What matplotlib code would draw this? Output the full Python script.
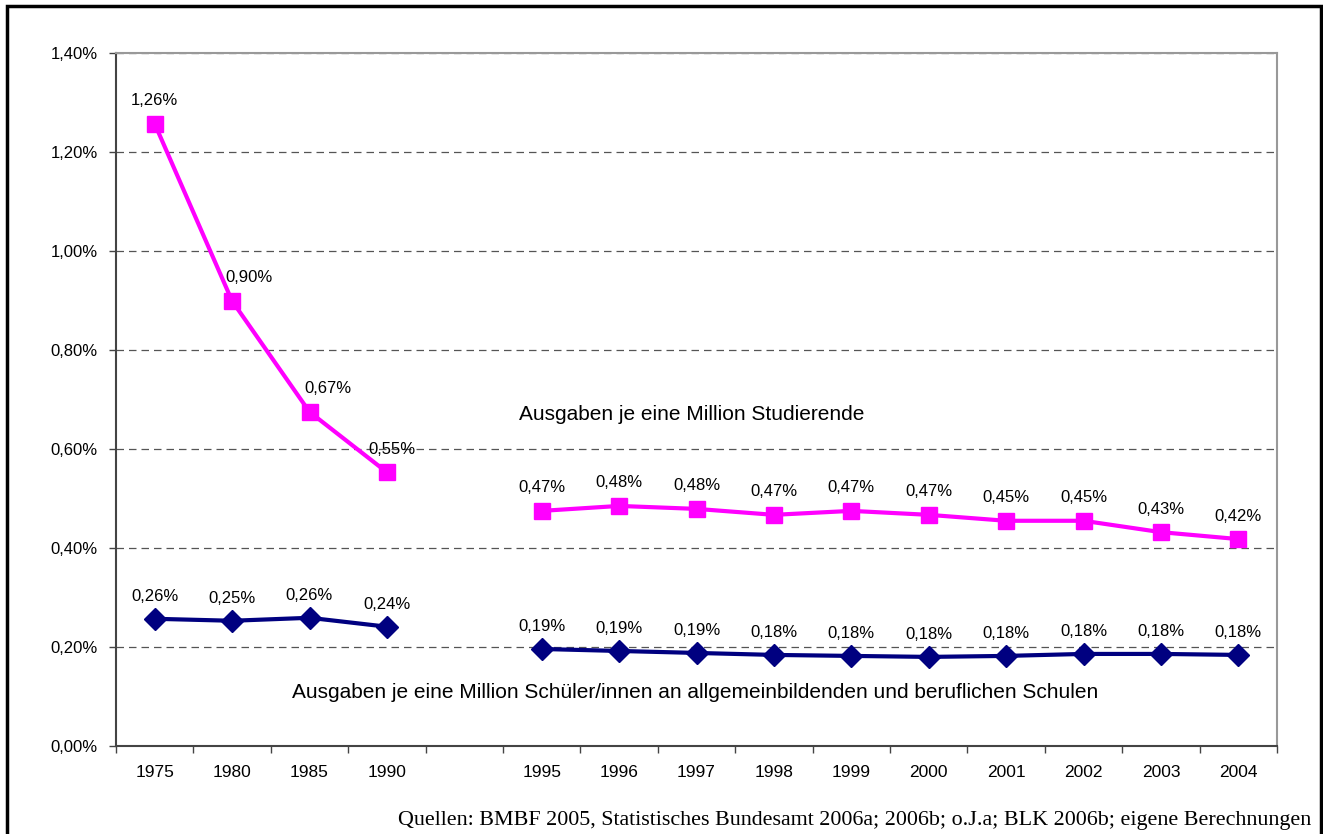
import numpy as np
import matplotlib.pyplot as plt
from matplotlib.patches import Rectangle

# Kategorien (ein leerer Platz zwischen 1990 und 1995)
jahre = ['1975', '1980', '1985', '1990', '', '1995', '1996', '1997', '1998',
         '1999', '2000', '2001', '2002', '2003', '2004']

# Ausgaben je eine Million Studierende (in %)
studierende = [1.257, 0.899, 0.675, 0.553, np.nan, 0.475, 0.485, 0.479, 0.467,
               0.475, 0.467, 0.455, 0.455, 0.432, 0.418]
studierende_lbl = ['1,26%', '0,90%', '0,67%', '0,55%', '', '0,47%', '0,48%', '0,48%',
                   '0,47%', '0,47%', '0,47%', '0,45%', '0,45%', '0,43%', '0,42%']

# Ausgaben je eine Million Schüler/innen (in %)
schueler = [0.257, 0.253, 0.259, 0.241, np.nan, 0.196, 0.192, 0.188, 0.184,
            0.182, 0.180, 0.182, 0.186, 0.186, 0.184]
schueler_lbl = ['0,26%', '0,25%', '0,26%', '0,24%', '', '0,19%', '0,19%', '0,19%',
                '0,18%', '0,18%', '0,18%', '0,18%', '0,18%', '0,18%', '0,18%']

y_ticks = [0.0, 0.2, 0.4, 0.6, 0.8, 1.0, 1.2, 1.4]

plt.rcParams['font.family'] = ['Liberation Sans', 'DejaVu Sans']

W, H = 1323, 834
fig = plt.figure(figsize=(W / 100, H / 100), dpi=100)
ax = fig.add_axes([116 / W, 1 - 746 / H, (1277 - 116) / W, (746 - 53) / H])

x = np.arange(len(jahre))
ax.plot(x, studierende, color='#FF00FF', lw=3, marker='s', ms=12, zorder=3)
ax.plot(x, schueler, color='#000080', lw=3, marker='D', ms=11.5, zorder=3)

# Datenbeschriftungen (Excel schiebt einige nach rechts)
dx_stud = [0, 17, 18, 5, 0, 0, 0, 0, 0, 0, 0, 0, 0, 0, 0]
for i in range(len(jahre)):
    if studierende_lbl[i]:
        ax.annotate(studierende_lbl[i], (x[i], studierende[i]), xytext=(dx_stud[i], 23),
                    textcoords='offset pixels', ha='center', va='center', fontsize=12)
    if schueler_lbl[i]:
        ax.annotate(schueler_lbl[i], (x[i], schueler[i]), xytext=(0, 22),
                    textcoords='offset pixels', ha='center', va='center', fontsize=12)

ax.set_xlim(-0.5, len(jahre) - 0.5)
ax.set_ylim(0, 1.4)

ax.set_yticks(y_ticks)
ax.set_yticklabels([('%.2f%%' % v).replace('.', ',') for v in y_ticks], fontsize=12)
ax.yaxis.grid(True, color='#555555', linestyle=(0, (6, 4)), lw=0.9)
ax.set_axisbelow(True)

# Striche zwischen den Kategorien, Beschriftung in der Mitte
ax.set_xticks(np.arange(len(jahre) + 1) - 0.5)
ax.set_xticklabels([])
ax.set_xticks(x, minor=True)
ax.set_xticklabels(jahre, minor=True, fontsize=12.5)
ax.tick_params(axis='x', which='major', direction='out', length=5, width=1, color='#444444')
ax.tick_params(axis='x', which='minor', length=0, pad=14)
ax.tick_params(axis='y', direction='out', length=5, width=1, color='#444444', pad=8)

for s in ['left', 'bottom']:
    ax.spines[s].set_color('#444444')
    ax.spines[s].set_linewidth(1.5)
for s in ['top', 'right']:
    ax.spines[s].set_color('#999999')
    ax.spines[s].set_linewidth(1.5)

fig.text(692 / W, 1 - 415 / H, 'Ausgaben je eine Million Studierende',
         fontsize=15, ha='center', va='center')
fig.text(695 / W, 1 - 692 / H,
         'Ausgaben je eine Million Schüler/innen an allgemeinbildenden und beruflichen Schulen',
         fontsize=15, ha='center', va='center')

fig.text(1311 / W, 1 - 820 / H,
         'Quellen: BMBF 2005, Statistisches Bundesamt 2006a; 2006b; o.J.a; BLK 2006b; eigene Berechnungen',
         fontsize=15.8, ha='right', va='center', family=['Liberation Serif', 'DejaVu Serif'])

# Rahmen um die ganze Grafik
fig.patches.append(Rectangle((7 / W, -0.05), (1321 - 7) / W, 1.05 - 6 / H,
                             transform=fig.transFigure, fill=False, ec='black', lw=2.5))

fig.savefig('out.png', dpi=100)
